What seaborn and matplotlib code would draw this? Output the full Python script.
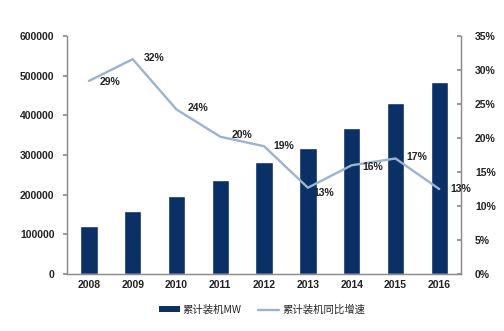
import matplotlib
matplotlib.use("Agg")
import matplotlib.pyplot as plt
import seaborn as sns
import pandas as pd
from matplotlib.lines import Line2D
from matplotlib.patches import Patch

years = ["2008", "2009", "2010", "2011", "2012", "2013", "2014", "2015", "2016"]
capacity_mw = [120000, 160000, 198000, 238000, 282000, 318000, 368000, 431000, 485000]
growth_pct = [28.4, 31.6, 24.2, 20.2, 18.8, 12.7, 16.0, 17.0, 12.5]
growth_labels = ["29%", "32%", "24%", "20%", "19%", "13%", "16%", "17%", "13%"]
left_ticks = [0, 100000, 200000, 300000, 400000, 500000, 600000]
right_ticks = [0, 5, 10, 15, 20, 25, 30, 35]
legend_labels = ["累计装机MW", "累计装机同比增速"]

sns.set_theme(style="white")
plt.rcParams['font.family'] = ['Liberation Sans', 'Noto Sans CJK SC', 'DejaVu Sans']

bar_color = "#0B3066"
line_color = "#9BB3D1"
spine_color = "#8C8C8C"

df = pd.DataFrame({"year": years, "cap": capacity_mw, "g": growth_pct})

fig = plt.figure(figsize=(5.04, 3.31), dpi=100)
ax = fig.add_axes([0.133, 0.172, 0.782, 0.719])
sns.barplot(data=df, x="year", y="cap", color=bar_color, width=0.4, ax=ax,
            saturation=1)
ax.set_ylim(0, 600000)
ax.set_yticks(left_ticks)
ax.set_yticklabels([str(t) for t in left_ticks])
ax.set_xlabel("")
ax.set_ylabel("")

ax2 = ax.twinx()
sns.lineplot(x=list(range(len(years))), y=growth_pct, ax=ax2, color=line_color,
             linewidth=1.7)
ax2.set_ylim(0, 35)
ax2.set_yticks(right_ticks)
ax2.set_yticklabels([f"{t}%" for t in right_ticks])
ax2.set_ylabel("")
ax.set_xlim(-0.5, 8.5)

offsets = [(8, -1), (8, 1), (8, 1), (8, 1), (7, 0), (4, -4), (8, -1), (8, 1), (8, 0)]
for i, (v, lab) in enumerate(zip(growth_pct, growth_labels)):
    ax2.annotate(lab, (i, v), xytext=offsets[i], textcoords="offset points",
                 ha="left", va="center", fontsize=7.5, fontweight="bold",
                 color="#222222")

for a in (ax, ax2):
    a.spines["top"].set_visible(False)
    for s in ("left", "right", "bottom"):
        a.spines[s].set_color(spine_color)
        a.spines[s].set_linewidth(0.9)
ax.tick_params(axis="y", direction="out", length=3, color=spine_color,
               labelsize=7.5, pad=6, left=True)
ax.tick_params(axis="x", length=0, labelsize=7.5, pad=4)
ax2.tick_params(axis="y", direction="in", length=3, color=spine_color,
                labelsize=7.5, pad=10, right=True)
for lab in ax.get_yticklabels() + ax.get_xticklabels() + ax2.get_yticklabels():
    lab.set_fontweight("bold")
    lab.set_color("#222222")

handles = [Patch(facecolor=bar_color, edgecolor="none"),
           Line2D([0], [0], color=line_color, linewidth=1.7)]
fig.legend(handles, legend_labels, loc="lower center", ncol=2,
           bbox_to_anchor=(0.52, 0.02), frameon=False,
           handlelength=2.0, handleheight=0.5, handletextpad=0.3,
           columnspacing=1.6,
           prop={'family': ['Noto Sans CJK SC', 'DejaVu Sans'], 'size': 7.5})

fig.savefig("out.png", dpi=100)
